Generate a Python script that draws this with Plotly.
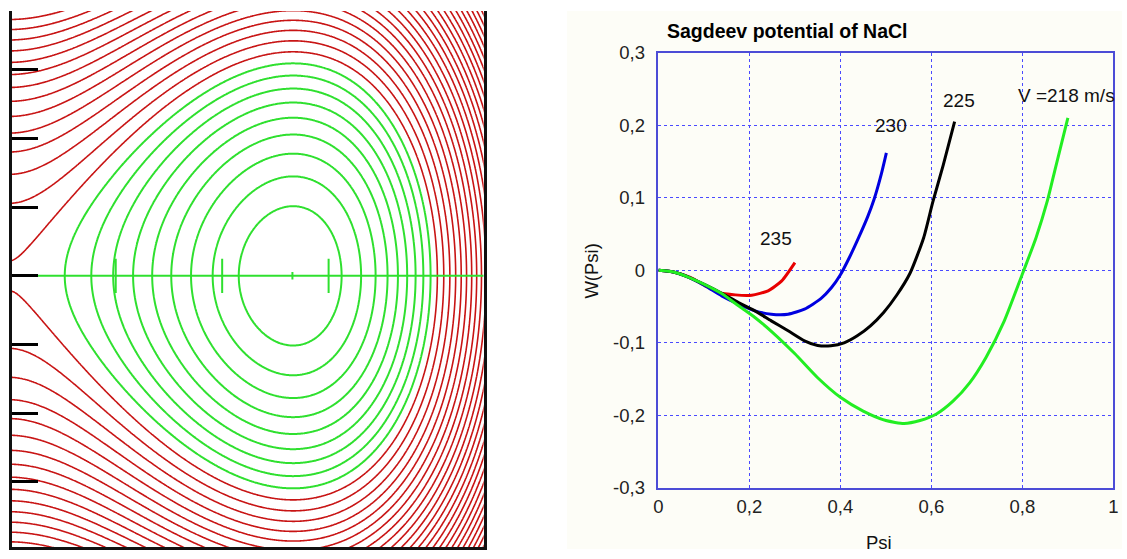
import numpy as np
import plotly.graph_objects as go

# ---------------- Right panel: Sagdeev potential curves -------------
psi_235 = [0, 0.035, 0.07, 0.103, 0.132, 0.169, 0.205, 0.241, 0.271, 0.30]
W_235 = [0, -0.0025, -0.0098, -0.0214, -0.0306, -0.0338, -0.0342, -0.0282, -0.0145, 0.0107]

psi_230 = [0, 0.035, 0.067, 0.103, 0.139, 0.176, 0.212, 0.248, 0.285, 0.321, 0.357,
           0.38, 0.40, 0.42, 0.44, 0.46, 0.474, 0.49, 0.501]
W_230 = [0, -0.0025, -0.0096, -0.0214, -0.0351, -0.0466, -0.0558, -0.0604, -0.0604, -0.0535,
         -0.039, -0.024, -0.006, 0.018, 0.045, 0.074, 0.098, 0.133, 0.162]

psi_225 = [0, 0.035, 0.067, 0.103, 0.139, 0.176, 0.212, 0.248, 0.285, 0.321, 0.35, 0.379,
           0.408, 0.437, 0.466, 0.495, 0.524, 0.553, 0.583, 0.603, 0.626, 0.651]
W_225 = [0, -0.0025, -0.0096, -0.02, -0.0315, -0.0445, -0.0558, -0.0696, -0.0833, -0.0971,
         -0.1035, -0.104, -0.1, -0.0902, -0.0764, -0.058, -0.034, -0.004, 0.045, 0.094,
         0.145, 0.205]

psi_218 = [0, 0.035, 0.067, 0.103, 0.139, 0.176, 0.212, 0.25, 0.3, 0.35, 0.4, 0.45, 0.5,
           0.54, 0.575, 0.611, 0.648, 0.684, 0.72, 0.76, 0.80, 0.83, 0.855, 0.873, 0.9]
W_218 = [0, -0.0025, -0.0096, -0.02, -0.032, -0.0489, -0.065, -0.085, -0.115, -0.148, -0.175,
         -0.194, -0.207, -0.211, -0.207, -0.198, -0.18, -0.155, -0.12, -0.07, -0.005, 0.045,
         0.096, 0.142, 0.21]

curve_labels = ["235", "230", "225", "V =218 m/s"]
label_x = [0.2586, 0.511, 0.6617, 0.786]
label_y = [0.0434, 0.199, 0.2335, 0.2404]

x_ticks = [0, 0.2, 0.4, 0.6, 0.8, 1]
x_ticktext = ["0", "0,2", "0,4", "0,6", "0,8", "1"]
y_ticks = [-0.3, -0.2, -0.1, 0, 0.1, 0.2, 0.3]
y_ticktext = ["-0,3", "-0,2", "-0,1", "0", "0,1", "0,2", "0,3"]

# ---------------- Left panel: phase portrait of the V=218 well -------
# psi positions where the drawn energy levels cross the psi-axis, with their level values
well_psi = [0.1037, 0.1558, 0.1968, 0.2322, 0.2694, 0.3067, 0.3439, 0.3830, 0.4333, 0.5320,
            0.6251, 0.6586, 0.6865, 0.7108, 0.7275, 0.7424, 0.7592, 0.7760, 0.7890, 0.8020,
            0.8150, 0.8262, 0.8393, 0.8504, 0.8616, 0.8709, 0.8802, 0.8895]
well_W = [-0.0205, -0.0419, -0.0633, -0.0848, -0.1062, -0.1276, -0.149, -0.1705, -0.1919, -0.213,
          -0.1919, -0.1705, -0.149, -0.1276, -0.1062, -0.0848, -0.0633, -0.0419, -0.0205, 0.001,
          0.0224, 0.0438, 0.0652, 0.0867, 0.108, 0.1295, 0.151, 0.172]
level_base = 0.00095      # first level just outside the separatrix
level_step = 0.02134
n_green = 9
n_red = 27
phase_vticks = [-0.6, -0.4, -0.2, 0, 0.2, 0.4, 0.6]
phase_psi_ticks = [0.2, 0.4, 0.6]
psi_center = 0.532

# W(psi) = psi^2 * P(psi), P fitted to the read levels (well bottom slightly weighted)
wp = np.array(well_psi)
ww = np.array(well_W)
wts = np.where(np.isclose(wp, psi_center), 3.0, 1.0)
pcoef = np.polyfit(wp, ww / wp**2, 3, w=wts)
psi_grid = np.linspace(0.0, 0.9, 451)
v_grid = np.linspace(-0.82, 0.82, 411)
W_grid = psi_grid**2 * np.polyval(pcoef, psi_grid)
H = 0.5 * v_grid[:, None]**2 + W_grid[None, :]

GREEN_L = "#2fe02f"
RED_L = "#c81414"

fig = go.Figure()

fig.add_trace(go.Contour(
    x=psi_grid, y=v_grid, z=H, xaxis="x", yaxis="y",
    autocontour=False,
    contours=dict(start=level_base - n_green * level_step + 1e-9,
                  end=level_base - level_step + 1e-9, size=level_step, coloring="lines"),
    colorscale=[[0, GREEN_L], [1, GREEN_L]], showscale=False,
    line=dict(width=2), hoverinfo="skip"))

fig.add_trace(go.Contour(
    x=psi_grid, y=v_grid, z=H, xaxis="x", yaxis="y",
    autocontour=False,
    contours=dict(start=level_base, end=level_base + (n_red - 1) * level_step + 1e-9,
                  size=level_step, coloring="lines"),
    colorscale=[[0, RED_L], [1, RED_L]], showscale=False,
    line=dict(width=1.6), hoverinfo="skip"))

# right-panel curves
for px_, py_, col in [(psi_235, W_235, "#e80000"), (psi_230, W_230, "#0000e0"),
                      (psi_225, W_225, "#000000"), (psi_218, W_218, "#22ee22")]:
    fig.add_trace(go.Scatter(x=px_, y=py_, mode="lines", xaxis="x2", yaxis="y2",
                             line=dict(color=col, width=3, shape="spline", smoothing=0.6),
                             showlegend=False, hoverinfo="skip"))

W_PX, H_PX = 1127, 559


# target (reference) pixel -> figure pixel, compensating the vertical capture offset/scale
def fxp(px):
    return px


def fyp(py):
    return (py - 10) / 0.963


def fx(px):
    return fxp(px) / W_PX


def fy(py):
    return 1 - fyp(py) / H_PX


FONT = "Liberation Sans, Arial, sans-serif"
GRID = "#4a4aff"
AXC = "#4c4cd6"

# left panel frame (figure px)
L_LEFT, L_RIGHT, L_TOP, L_BOT = 7, 483, 0, 557
psi_lo = 0.005 + (L_LEFT - 7) / 537
psi_hi = 0.005 + (L_RIGHT - 7) / 537
v_hi = (275 - (10 + 0.963 * L_TOP)) / 343.75
v_lo = (275 - (10 + 0.963 * L_BOT)) / 343.75

shapes = [
    dict(type="rect", xref="paper", yref="paper", x0=fx(567), x1=1, y0=0, y1=1,
         fillcolor="#fdfdf7", line=dict(width=0), layer="below"),
    dict(type="line", xref="x", yref="y", x0=0.054, x1=psi_hi, y0=0, y1=0,
         line=dict(color=GREEN_L, width=2)),
    dict(type="line", xref="x", yref="y", x0=psi_center, x1=psi_center, y0=-0.011, y1=0.011,
         line=dict(color=GREEN_L, width=2)),
]
for t in phase_psi_ticks:
    shapes.append(dict(type="line", xref="x", yref="y", x0=t, x1=t, y0=-0.05, y1=0.05,
                       line=dict(color=GREEN_L, width=2)))

annotations = [
    dict(text="<b>Sagdeev potential of NaCl</b>", xref="paper", yref="paper",
         x=fx(666), y=fy(30), xanchor="left", yanchor="middle", showarrow=False,
         font=dict(family=FONT, size=19.5, color="#000")),
    dict(text="Psi", xref="paper", yref="paper", x=fx(882), y=fy(542),
         xanchor="center", yanchor="middle", showarrow=False,
         font=dict(family=FONT, size=18.5, color="#111")),
    dict(text="W(Psi)", xref="paper", yref="paper", x=fx(592), y=fy(270),
         xanchor="center", yanchor="middle", showarrow=False, textangle=-90,
         font=dict(family=FONT, size=18.5, color="#111")),
]
for i, (t, lx, ly) in enumerate(zip(curve_labels, label_x, label_y)):
    annotations.append(dict(text=t, xref="x2", yref="y2", x=lx, y=ly,
                            xanchor="left" if i == 3 else "center", yanchor="middle",
                            showarrow=False, font=dict(family=FONT, size=19, color="#111")))

fig.update_layout(
    width=W_PX, height=H_PX, autosize=False,
    margin=dict(l=0, r=0, t=0, b=0, pad=0),
    paper_bgcolor="white", plot_bgcolor="rgba(0,0,0,0)",
    showlegend=False,
    xaxis=dict(domain=[L_LEFT / W_PX, L_RIGHT / W_PX], range=[psi_lo, psi_hi], anchor="y",
               showgrid=False, zeroline=False, showticklabels=False, ticks="",
               showline=True, linecolor="#111", linewidth=2.5, mirror=False),
    yaxis=dict(domain=[1 - L_BOT / H_PX, 1 - L_TOP / H_PX], range=[v_lo, v_hi], anchor="x",
               showgrid=False, zeroline=False, showticklabels=False,
               tickvals=phase_vticks, ticks="inside", ticklen=26, tickwidth=2.5,
               tickcolor="#000", showline=True, linecolor="#111", linewidth=3, mirror=True),
    xaxis2=dict(domain=[fx(659.3), fx(1118.3)], range=[0, 1], anchor="y2",
                tickvals=x_ticks, ticktext=x_ticktext, ticks="",
                showgrid=True, gridcolor=GRID, griddash="dot", gridwidth=1,
                zeroline=False, showline=True, linecolor=AXC, linewidth=1.5, mirror=True,
                tickfont=dict(family=FONT, size=18.5, color="#222"), ticklabelstandoff=1),
    yaxis2=dict(domain=[fy(487.3), fy(51.7)], range=[-0.3, 0.3],
                anchor="x2", tickvals=y_ticks, ticktext=y_ticktext, ticks="",
                showgrid=True, gridcolor=GRID, griddash="dot", gridwidth=1,
                zeroline=False, showline=True, linecolor=AXC, linewidth=1.5, mirror=True,
                tickfont=dict(family=FONT, size=18.5, color="#222"), ticklabelstandoff=8),
    shapes=shapes, annotations=annotations,
)

fig.write_html("out.html", config={"displayModeBar": False, "responsive": False},
               post_script="document.body.style.margin='0';")
